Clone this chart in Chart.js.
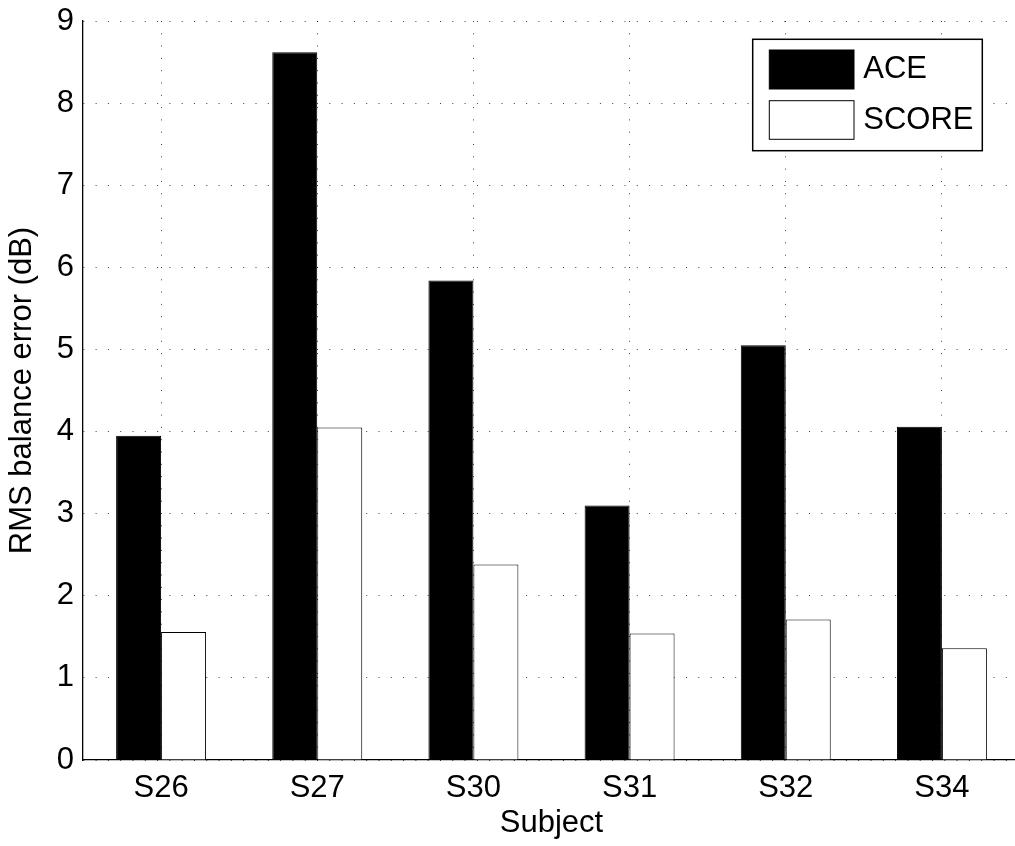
<!DOCTYPE html>
<html>
<head>
<meta charset="utf-8">
<script src="https://cdn.jsdelivr.net/npm/chart.js@4/dist/chart.umd.min.js"></script>
<style>
  html, body { margin: 0; padding: 0; background: #fff; overflow: hidden; }
  #wrap { width: 1030px; height: 846px; position: relative; }
</style>
</head>
<body>
<div id="wrap"><canvas id="c" width="1030" height="846"></canvas></div>
<script>
// Subjects and per-subject RMS balance error (dB)
const subjects = ['S26', 'S27', 'S30', 'S31', 'S32', 'S34'];
const aceError = [3.95, 8.62, 5.84, 3.10, 5.05, 4.06];
const scoreError = [1.56, 4.05, 2.38, 1.54, 1.71, 1.36];
const yTicks = [0, 1, 2, 3, 4, 5, 6, 7, 8, 9];

const FONT = "'Liberation Sans', Arial, Helvetica, sans-serif";

// Boxed legend drawn inside the plot area, top-right corner
const boxedLegend = {
  id: 'boxedLegend',
  afterDraw(chart) {
    const ctx = chart.ctx;
    const ca = chart.chartArea;
    const bx = ca.right - 267.3, by = ca.top + 18.3, bw = 229.6, bh = 111.4;
    ctx.save();
    ctx.fillStyle = '#fff';
    ctx.fillRect(bx, by, bw, bh);
    ctx.strokeStyle = '#000';
    ctx.lineWidth = 1.5;
    ctx.strokeRect(bx, by, bw, bh);
    const rows = [
      { top: by + 10.7, h: 39, ty: by + 30.5 },
      { top: by + 61.4, h: 38.6, ty: by + 81 }
    ];
    chart.data.datasets.forEach((ds, i) => {
      const r = rows[i];
      ctx.fillStyle = ds.backgroundColor;
      ctx.fillRect(bx + 16.6, r.top, 84.7, r.h);
      ctx.strokeStyle = '#000';
      ctx.lineWidth = 1;
      ctx.strokeRect(bx + 16.6, r.top, 84.7, r.h);
      ctx.fillStyle = '#000';
      ctx.font = '31px ' + FONT;
      ctx.textBaseline = 'middle';
      ctx.textAlign = 'left';
      ctx.fillText(ds.label, bx + 110.6, r.ty);
    });
    ctx.restore();
  }
};

const dottedGrid = {
  display: true,
  color: 'rgba(0,0,0,0.75)',
  lineWidth: 1,
  drawTicks: false
};
const dotDash = [1, 11.3];

new Chart(document.getElementById('c'), {
  type: 'bar',
  data: {
    labels: subjects,
    datasets: [
      {
        label: 'ACE',
        data: aceError,
        backgroundColor: '#000000',
        borderColor: '#000000',
        borderWidth: 1
      },
      {
        label: 'SCORE',
        data: scoreError,
        backgroundColor: '#ffffff',
        borderColor: '#000000',
        borderWidth: 1
      }
    ]
  },
  options: {
    responsive: false,
    animation: false,
    devicePixelRatio: 1,
    layout: { padding: { top: 21, right: 10, left: 0, bottom: 0 } },
    datasets: {
      bar: { categoryPercentage: 0.576, barPercentage: 1.0 }
    },
    plugins: {
      legend: { display: false },
      tooltip: { enabled: false }
    },
    scales: {
      x: {
        offset: true,
        grid: Object.assign({}, dottedGrid, { offset: false }),
        border: { display: true, color: '#000', width: 1.3, dash: dotDash },
        ticks: {
          color: '#000',
          font: { family: FONT, size: 31 },
          padding: 10,
          maxRotation: 0
        },
        title: {
          display: true,
          text: 'Subject',
          color: '#000',
          font: { family: FONT, size: 31 },
          padding: { top: 0, bottom: 4 }
        },
        afterFit(scale) { scale.height = 86; }
      },
      y: {
        min: 0,
        max: 9,
        afterBuildTicks(scale) { scale.ticks = yTicks.map(v => ({ value: v })); },
        grid: dottedGrid,
        border: { display: true, color: '#000', width: 1.3, dash: dotDash },
        ticks: {
          color: '#000',
          font: { family: FONT, size: 31, lineHeight: 0.6 },
          padding: 9
        },
        title: {
          display: true,
          text: 'RMS balance error (dB)',
          color: '#000',
          font: { family: FONT, size: 31 },
          padding: { top: 4, bottom: 0 }
        },
        afterFit(scale) { scale.width = 83; }
      }
    }
  },
  plugins: [boxedLegend]
});
</script>
</body>
</html>
